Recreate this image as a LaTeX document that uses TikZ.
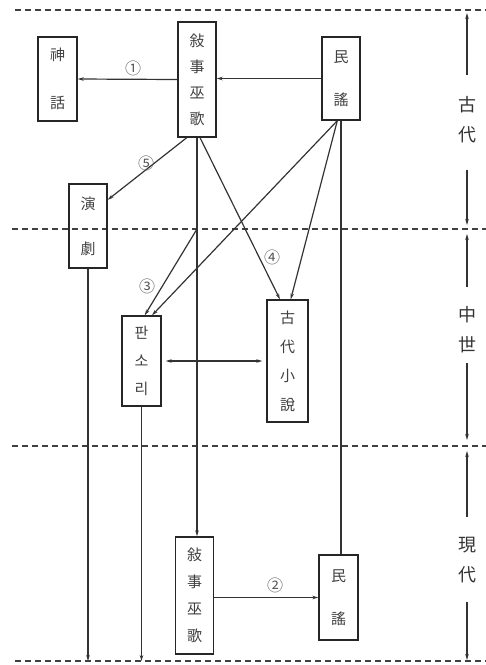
\documentclass[tikz,border=0pt]{standalone}
\usepackage{fontspec}
\newfontfamily\kor{Noto Sans CJK KR}
\usetikzlibrary{arrows.meta,calc}
\newcommand{\boxfont}[1]{\kor\fontsize{15}{#1}\selectfont}

\begin{document}
\begin{tikzpicture}[x=1pt,y=-1pt,
  genre/.style={draw=black!85,line width=1.4pt,minimum width=38pt,inner sep=0pt,align=center,text=black!75},
  flow/.style={draw=black!80,line width=1.2pt},
  period/.style={black!75,line width=1.2pt,dash pattern=on 6pt off 4pt},
  numlabel/.style={font=\kor\fontsize{16}{16}\selectfont,text=black!65,inner sep=0pt},
  era/.style={font=\kor\fontsize{18}{30}\selectfont,align=center,text=black!80,inner sep=0pt},
  >={Stealth[length=6pt,width=3.5pt]}]

\useasboundingbox (0,0) rectangle (486,665);

% period borders
\coordinate (cut0) at (15,10);
\coordinate (cut1) at (12,229);
\coordinate (cut2) at (12,446);
\coordinate (cut3) at (15,661);
\foreach \c in {cut0,cut1,cut2,cut3}
  \draw[period] (\c) -- ++(475,0);

% genres
\node[genre,minimum width=39pt,minimum height=84pt,font=\boxfont{48}] (myth) at (57.5,79) {神\\話};
\node[genre,minimum height=115pt,font=\boxfont{26}] (shamA) at (197,79.5) {敍\\事\\巫\\歌};
\node[genre,minimum height=83pt,font=\boxfont{43}] (folkA) at (341,78.5) {民\\謠};
\node[genre,minimum height=84pt,font=\boxfont{45}] (drama) at (88,226) {演\\劇};
\node[genre,minimum width=39pt,minimum height=90pt,font=\boxfont{28}] (pansori) at (141.5,361) {판\\소\\리};
\node[genre,minimum width=41pt,minimum height=122pt,font=\boxfont{29}] (novel) at (287.5,361) {古\\代\\小\\說};
\node[genre,minimum height=117pt,font=\boxfont{27}] (shamB) at (194.5,595.5) {敍\\事\\巫\\歌};
\node[genre,minimum width=39pt,minimum height=85pt,font=\boxfont{43}] (folkB) at (338.5,597.5) {民\\謠};

% derivations
\draw[flow,->] (shamA.west) -- (myth.east);
\draw[flow,->] (folkA.west) -- (folkA.west -| shamA.east);
\draw[flow,->] (shamA.-100) -- (drama.53);
\draw[flow,->] (shamA.south) -- (shamA.south |- shamB.north);
\draw[flow,->] (shamA.-87) -- (novel.97);
\draw[flow,->] (folkA.-95) -- (pansori.77);
\draw[flow,->] (folkA.-95) -- (novel.87);
\draw[flow] (folkA.south) -- (folkA.south |- folkB.north);
\draw[flow,->] (shamA.south |- cut1) -- (pansori.86);
\draw[flow,<->,shorten <=4pt,shorten >=4pt] (pansori.east) -- (novel.west);
\draw[flow,->] (drama.south) -- (drama.south |- cut3);
\draw[flow,->] (pansori.south) -- (pansori.south |- cut3);
\draw[flow,->] (shamB.east |- folkB.west) -- (folkB.west);

\node[numlabel] (n1) at (133,68) {①};
\node[numlabel] (n5) at (146,163) {⑤};
\node[numlabel] (n4) at (272,257) {④};
\node[numlabel] (n3) at (147,286) {③};
\node[numlabel] (n2) at (275,585) {②};

% periods
\node[era] (ancient) at (467,120) {古\\代};
\node[era] (middle) at (467,330) {中\\世};
\node[era] (modern) at (467,560) {現\\代};
\draw[flow,->,shorten <=22pt,shorten >=3pt] (ancient.north) -- (ancient.north |- cut0);
\draw[flow,->,shorten <=26pt,shorten >=4pt] (ancient.south) -- (ancient.south |- cut1);
\draw[flow,->,shorten <=20pt,shorten >=5pt] (middle.north) -- (middle.north |- cut1);
\draw[flow,->,shorten <=10pt,shorten >=6pt] (middle.south) -- (middle.south |- cut2);
\draw[flow,->,shorten <=20pt,shorten >=5pt] (modern.north) -- (modern.north |- cut2);
\draw[flow,->,shorten <=19pt,shorten >=1pt] (modern.south) -- (modern.south |- cut3);
\end{tikzpicture}
\end{document}
